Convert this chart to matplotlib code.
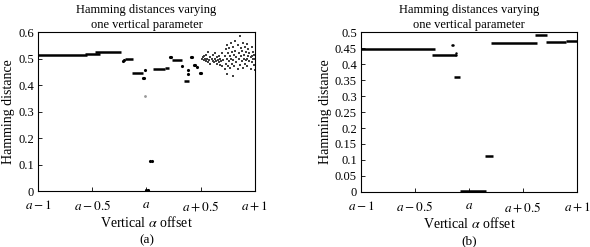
import matplotlib.pyplot as plt

plt.rcParams['font.family'] = ['Liberation Serif', 'DejaVu Serif']
plt.rcParams['mathtext.fontset'] = 'stix'
plt.rcParams['font.size'] = 9

# ---- panel (a) data ----
a_seg_x0 = [-1.00, -0.57, -0.47, -0.20, -0.13, 0.06, 0.17, 0.24, 0.35]
a_seg_x1 = [-0.55, -0.43, -0.23, -0.12, -0.03, 0.17, 0.21, 0.33, 0.39]
a_seg_y = [0.512, 0.517, 0.525, 0.500, 0.445, 0.462, 0.466, 0.495, 0.415]

a_pt_x = [-0.22, -0.21, -0.03, -0.02, -0.01, 0.03, 0.05, 0.00, 0.01,
          0.22, 0.23, 0.33, 0.38, 0.38, 0.41, 0.42, 0.44, 0.45, 0.47, 0.49, 0.50]
a_pt_y = [0.490, 0.495, 0.425, 0.427, 0.455, 0.113, 0.113, 0.003, 0.003,
          0.505, 0.505, 0.470, 0.440, 0.455, 0.505, 0.505, 0.475, 0.475, 0.467, 0.447, 0.445]

# faint outlier
a_faint_x = [-0.01]
a_faint_y = [0.360]

cloud_x = [0.51, 0.52, 0.53, 0.53, 0.54, 0.55, 0.55, 0.56, 0.57, 0.57, 0.58, 0.59, 0.59,
           0.60, 0.61, 0.61, 0.62, 0.63, 0.63, 0.64, 0.65, 0.65, 0.66, 0.67, 0.67, 0.68,
           0.68, 0.69, 0.70, 0.70, 0.71, 0.72, 0.72, 0.73, 0.73, 0.74, 0.74, 0.75, 0.75,
           0.76, 0.76, 0.77, 0.77, 0.78, 0.78, 0.79, 0.79, 0.80, 0.80, 0.81, 0.81, 0.82,
           0.82, 0.83, 0.83, 0.84, 0.84, 0.85, 0.85, 0.86, 0.86, 0.87, 0.87, 0.88, 0.88,
           0.89, 0.89, 0.90, 0.90, 0.91, 0.91, 0.92, 0.92, 0.93, 0.93, 0.94, 0.94, 0.95,
           0.95, 0.96, 0.96, 0.97, 0.97, 0.98, 0.98, 0.99, 0.99, 1.00, 1.00, 0.80, 0.74,
           0.93, 0.97]
cloud_y = [0.500, 0.505, 0.495, 0.510, 0.500, 0.515, 0.490, 0.500, 0.525, 0.485, 0.495,
           0.505, 0.480, 0.500, 0.490, 0.515, 0.485, 0.500, 0.520, 0.490, 0.480, 0.505,
           0.495, 0.485, 0.510, 0.475, 0.500, 0.490, 0.520, 0.470, 0.495, 0.510, 0.460,
           0.535, 0.480, 0.500, 0.550, 0.470, 0.520, 0.490, 0.540, 0.510, 0.465, 0.560,
           0.500, 0.525, 0.480, 0.545, 0.495, 0.515, 0.470, 0.565, 0.530, 0.505, 0.485,
           0.550, 0.460, 0.520, 0.500, 0.585, 0.475, 0.540, 0.510, 0.490, 0.530, 0.560,
           0.465, 0.515, 0.500, 0.545, 0.480, 0.525, 0.495, 0.555, 0.470, 0.510, 0.535,
           0.490, 0.520, 0.505, 0.460, 0.545, 0.485, 0.500, 0.525, 0.515, 0.475, 0.500,
           0.455, 0.435, 0.440, 0.500, 0.510]

# ---- panel (b) data ----
b_seg_x0 = [-1.00, -0.34, -0.14, -0.08, 0.15, 0.20, 0.61, 0.71, 0.90]
b_seg_x1 = [-0.315, -0.12, -0.08, 0.155, 0.22, 0.625, 0.72, 0.90, 1.00]
b_seg_y = [0.447, 0.427, 0.360, 0.004, 0.113, 0.465, 0.491, 0.468, 0.473]

b_pt_x = [-0.16, -0.15, -0.12, -0.12]
b_pt_y = [0.460, 0.460, 0.433, 0.428]

xticks = [-1, -0.5, 0, 0.5, 1]
xticklabels = [r'$a-1$', r'$a-0.5$', r'$a$', r'$a+0.5$', r'$a+1$']

fig = plt.figure(figsize=(5.9, 2.47), dpi=100)
ax1 = fig.add_axes([0.0644, 0.2267, 0.3676, 0.6437])
ax2 = fig.add_axes([0.612, 0.2227, 0.366, 0.6477])

ax1.hlines(a_seg_y, a_seg_x0, a_seg_x1, colors='k', lw=1.8)
ax1.plot(a_pt_x, a_pt_y, 'k.', ms=2.5)
ax1.plot(a_faint_x, a_faint_y, '.', color='0.6', ms=2)
ax1.scatter(cloud_x, cloud_y, s=0.8, c='0.25', marker='s', linewidths=0)
ax1.set_ylim(0, 0.6)
ax1.set_yticks([0, 0.1, 0.2, 0.3, 0.4, 0.5, 0.6])
ax1.set_yticklabels(['0', '0.1', '0.2', '0.3', '0.4', '0.5', '0.6'])

ax2.hlines(b_seg_y, b_seg_x0, b_seg_x1, colors='k', lw=1.8)
ax2.plot(b_pt_x, b_pt_y, 'k.', ms=1.5)
ax2.set_ylim(0, 0.5)
yt = [0, 0.05, 0.1, 0.15, 0.2, 0.25, 0.3, 0.35, 0.4, 0.45, 0.5]
ax2.set_yticks(yt)
ax2.set_yticklabels(['0', '0.05', '0.1', '0.15', '0.2', '0.25', '0.3', '0.35', '0.4', '0.45', '0.5'])

for ax, tag in [(ax1, '(a)'), (ax2, '(b)')]:
    ax.set_xlim(-1, 1)
    ax.set_xticks(xticks)
    ax.set_xticklabels(xticklabels)
    ax.tick_params(direction='in', length=3, width=0.6, pad=3, labelsize=9)
    ax.tick_params(axis='x', labelsize=9.5, pad=6)
    for s in ax.spines.values():
        s.set_linewidth(0.8)
    ax.set_title('Hamming distances varying\none vertical parameter', fontsize=9,
                 linespacing=1.3, pad=3)
    ax.set_ylabel('Hamming distance', fontsize=10, labelpad=2)
    ax.set_xlabel(r'Vertical $\alpha$ offset', fontsize=10, labelpad=1)
    ax.text(0.5, -0.31, tag, transform=ax.transAxes, ha='center', va='center', fontsize=9.5)

fig.savefig('out.png', dpi=100)
